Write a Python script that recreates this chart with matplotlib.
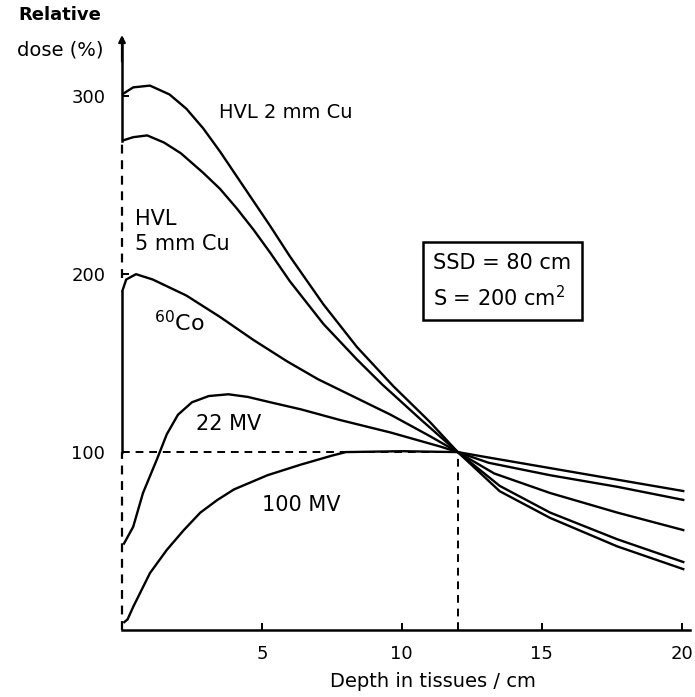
import numpy as np
import matplotlib
matplotlib.use("Agg")
import matplotlib.pyplot as plt

### depth-dose curves (depth in cm, relative dose in %)
depth_hvl2 = [0.0, 0.4, 1.0, 1.7, 2.3, 2.9, 3.5, 4.1, 4.7, 5.3, 6.0, 7.2, 8.4, 9.7, 11.0, 12.0,
              13.5, 15.3, 17.7, 20.1]
dose_hvl2 = [301, 305, 306, 301, 293, 282, 269, 255, 241, 227, 210, 183, 159, 137, 117, 100,
             78, 63, 47, 34]

depth_hvl5 = [0.0, 0.4, 0.9, 1.5, 2.1, 2.9, 3.5, 4.1, 4.7, 5.3, 6.0, 7.2, 8.4, 9.3, 10.7, 12.0,
              13.5, 15.3, 17.7, 20.1]
dose_hvl5 = [275, 277, 278, 274, 268, 257, 248, 237, 225, 212, 196, 172, 152, 138, 118, 100,
             81, 66, 51, 38]

depth_co60 = [0.0, 0.15, 0.5, 1.1, 2.3, 3.5, 4.7, 5.9, 7.0, 8.3, 9.6, 11.0, 12.0,
              13.3, 15.3, 17.7, 20.1]
dose_co60 = [190, 197, 200, 197, 188, 176, 163, 151, 141, 131, 121, 109, 100,
             88, 77, 66, 56]

depth_22mv = [0.05, 0.4, 0.75, 1.25, 1.6, 2.0, 2.5, 3.1, 3.8, 4.5, 5.3, 6.4, 7.8, 9.6, 11.4, 12.0,
              13.1, 15.3, 17.7, 20.1]
dose_22mv = [48, 58, 77, 96, 110, 121, 128, 131.5, 132.5, 131, 128, 124, 118, 111, 103, 100,
             94, 87, 80.5, 73]

depth_100mv = [0.05, 0.2, 0.4, 1.0, 1.6, 2.2, 2.8, 3.4, 4.0, 5.2, 6.4, 7.5, 8.0, 10.0, 12.0,
               12.9, 15.3, 17.7, 20.1]
dose_100mv = [4, 6, 13, 32, 45, 56, 66, 73, 79, 87, 93, 98, 100, 100.5, 100,
              97.5, 91, 84.5, 78]

ref_depth = 12.0
ref_dose = 100
y_ticks = [100, 200, 300]
x_ticks = [5, 10, 15, 20]
###---------------------------------------------------------------------

plt.rcParams["font.family"] = "DejaVu Sans"
fig = plt.figure(figsize=(6.95, 6.97), dpi=100)
ax = fig.add_axes([122 / 695, 67 / 697, 568 / 695, 596 / 697])
ax.set_xlim(0, 20.3)
ax.set_ylim(0, 335)

lw = 1.7
for d, v in [(depth_hvl2, dose_hvl2), (depth_hvl5, dose_hvl5), (depth_co60, dose_co60),
             (depth_22mv, dose_22mv), (depth_100mv, dose_100mv)]:
    ax.plot(d, v, color="k", lw=lw, solid_capstyle="butt", solid_joinstyle="round",
            clip_on=False)

# reference lines through the normalisation point
ax.plot([0, ref_depth], [ref_dose, ref_dose], color="k", lw=1.4, ls=(0, (4, 3)))
ax.plot([ref_depth, ref_depth], [0, ref_dose], color="k", lw=1.4, ls=(0, (4, 3)))

### axes
for s in ["top", "right", "left"]:
    ax.spines[s].set_visible(False)
ax.spines["bottom"].set_linewidth(1.8)
# left axis drawn by hand: solid and broken pieces as in the figure
ax.plot([0, 0], [dose_hvl5[0], 332], color="k", lw=1.8, clip_on=False)
ax.plot([0, 0], [dose_co60[0] + 8, dose_hvl5[0]], color="k", lw=1.6, ls=(0, (4, 3)), clip_on=False)
ax.plot([0, 0], [ref_dose, dose_co60[0]], color="k", lw=1.8, clip_on=False)
ax.plot([0, 0], [0, ref_dose], color="k", lw=1.6, ls=(0, (4, 3)), clip_on=False)
ax.annotate("", xy=(0, 336), xytext=(0, 318), xycoords="data",
            arrowprops=dict(arrowstyle="-|>", color="k", lw=1.6, mutation_scale=10),
            annotation_clip=False)

ax.set_xticks(x_ticks)
ax.set_yticks(y_ticks)
ax.tick_params(axis="both", direction="in", length=5, width=1.4, labelsize=13)
ax.tick_params(axis="x", pad=11)
ax.tick_params(axis="y", pad=12)

ax.set_xlabel("Depth in tissues / cm", fontsize=14)
ax.xaxis.set_label_coords(0.548, -0.071)
fig.text(60 / 695, 1 - 15 / 697, "Relative", ha="center", va="center", fontsize=13,
         fontweight="bold")
fig.text(60 / 695, 1 - 50 / 697, "dose (%)", ha="center", va="center", fontsize=14)

### curve labels
ax.text(3.45, 291, "HVL 2 mm Cu", fontsize=14, ha="left", va="center")
ax.text(0.45, 224, "HVL\n5 mm Cu", fontsize=15, ha="left", va="center", linespacing=1.3)
ax.text(1.15, 173, r"$^{60}$Co", fontsize=16, ha="left", va="center")
ax.text(2.65, 116, "22 MV", fontsize=15, ha="left", va="center")
ax.text(5.0, 70, "100 MV", fontsize=15, ha="left", va="center")
ax.text(13.6, 196, "SSD = 80 cm\nS = 200 cm$^2$", fontsize=15, ha="center", va="center",
        multialignment="left", linespacing=1.55,
        bbox=dict(boxstyle="square,pad=0.5", fc="white", ec="k", lw=1.8))

fig.savefig("out.png", dpi=100)
